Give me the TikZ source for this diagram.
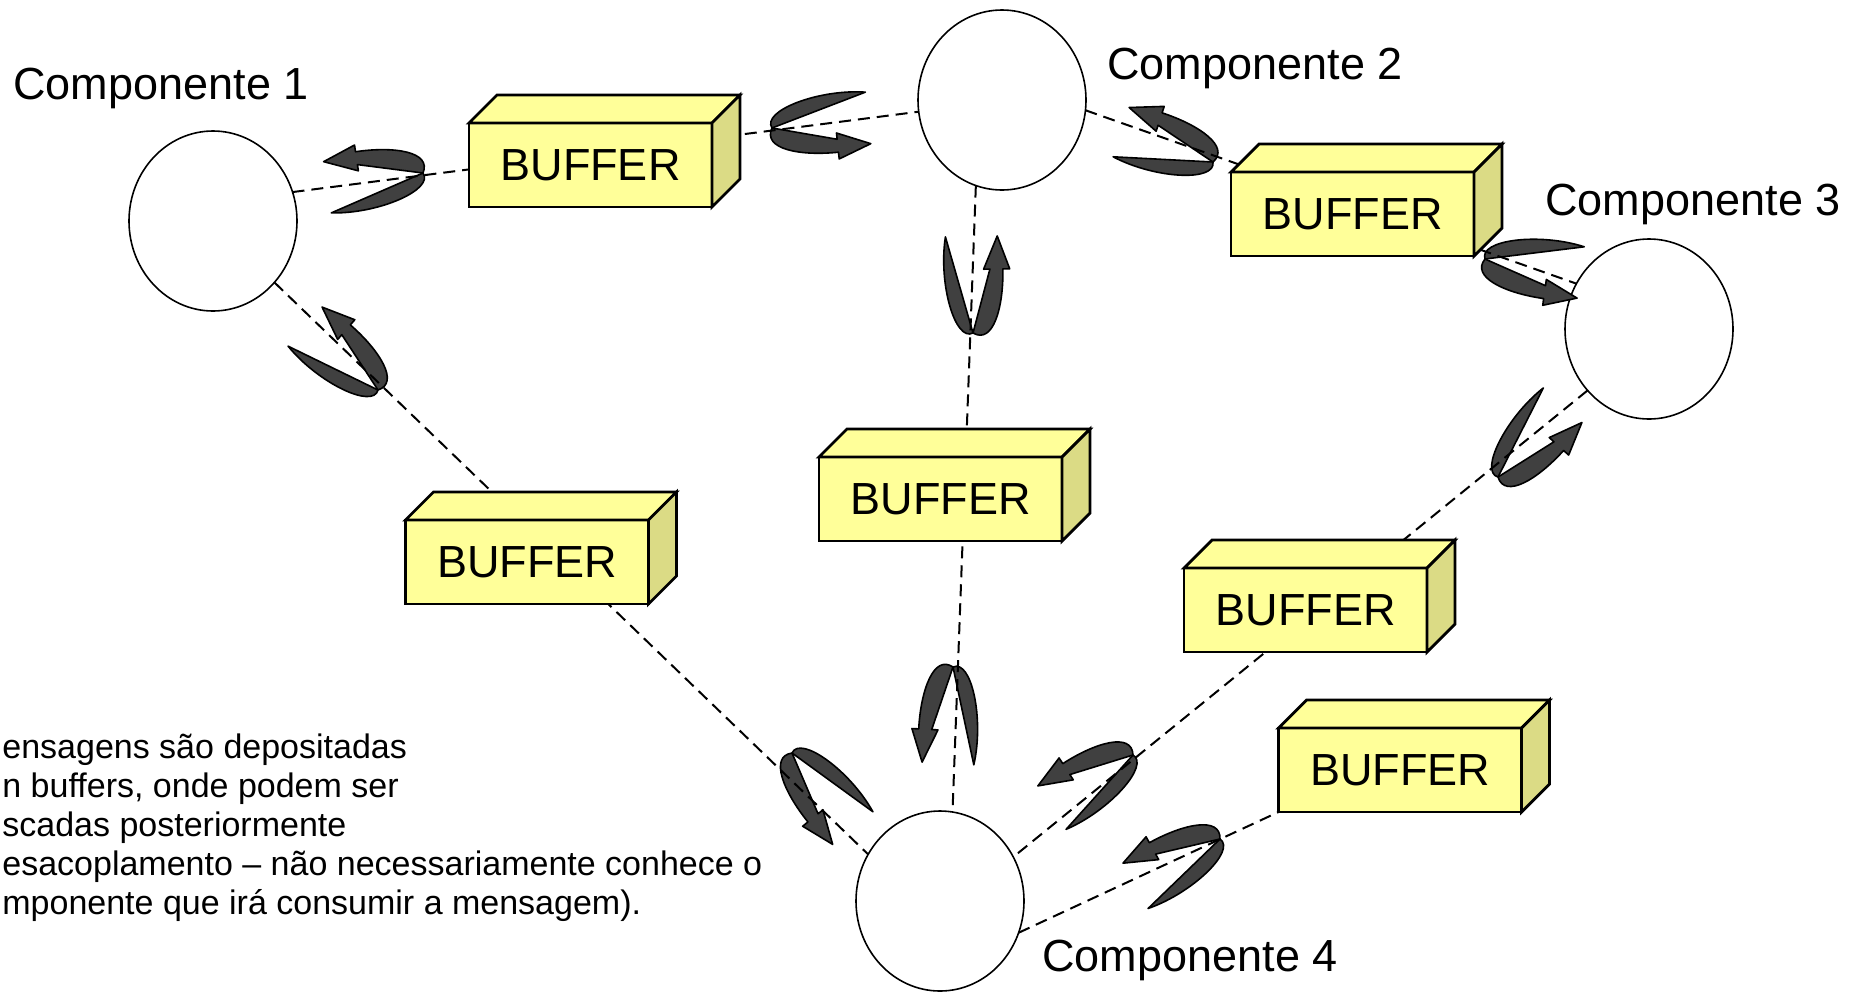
\documentclass[tikz,border=0pt]{standalone}
\usepackage{fontspec}
\setmainfont{Liberation Sans}
\usetikzlibrary{shapes.geometric}

\definecolor{bufyellow}{HTML}{FFFF99}
\definecolor{bufside}{HTML}{DBDB85}
\definecolor{flapgray}{HTML}{404040}

\tikzset{
  comp/.style={draw, ellipse, fill=white, line width=0.8pt, minimum width=84pt, minimum height=90pt, inner sep=0pt, outer sep=0pt},
  buffer/.style={draw, rectangle, fill=bufyellow, line width=1.4pt, minimum width=121.5pt, minimum height=42pt, inner sep=0pt, outer sep=0pt, font=\fontsize{22.5pt}{27pt}\selectfont},
  facet/.style={draw, line width=1.4pt},
  wire/.style={line width=1pt, dash pattern=on 6pt off 3.5pt},
  flap/.style={draw, fill=flapgray, line width=0.8pt, line join=round},
  compname/.style={anchor=base west, inner sep=0pt, font=\fontsize{22.5pt}{27pt}\selectfont},
  note/.style={anchor=base west, inner sep=0pt, font=\fontsize{17pt}{19.5pt}\selectfont}
}

% buffer drawn as a box: front face is the node
\newcommand\bufferbox[2]{%
  \node[buffer] (#1) at (#2) {BUFFER};
  \filldraw[facet, fill=bufyellow] (#1.north west) -- ++(28,-28) -- ++(243,0) -- (#1.north east) -- cycle;
  \filldraw[facet, fill=bufside] (#1.north east) -- ++(28,-28) -- ++(0,84) -- (#1.south east) -- cycle;
}

% pair of bent arrows meeting on a link
\newcommand\uturn[2]{%
  \begin{scope}[shift={(#1)}, rotate=#2, x=0.5pt, y=0.5pt]
    \filldraw[flap] (0,0) -- (96.6,25.9) .. controls (50,34) and (-9,18) .. cycle;
    \filldraw[flap] (0,0) -- (63.6,-18) -- (63.6,-11.7) -- (96.6,-25.9) -- (63.6,-37.8) -- (63.6,-31)
      .. controls (25,-31) and (-12,-20) .. cycle;
  \end{scope}}

\begin{document}
\begin{tikzpicture}[x=0.5pt, y=-0.5pt]
  \useasboundingbox (0,0) rectangle (1864,992);

  % components
  \node[comp] (c1) at (213,221) {};
  \node[comp] (c2) at (1002,100) {};
  \node[comp] (c3) at (1649,329) {};
  \node[comp] (c4) at (940,901) {};
  \node[compname] (n1) at (13,99) {Componente 1};
  \node[compname] (n2) at (1107,79) {Componente 2};
  \node[compname] (n3) at (1545,215) {Componente 3};
  \node[compname] (n4) at (1042,971) {Componente 4};

  % messages
  \foreach \vx/\vy/\a in {423/173/188.5, 772/128/6, 1213/162/162, 1485/259/-8,
      378/390/139, 973/333/91, 792/753/-51, 953/667/-93,
      1133/755/-147, 1220/839/-151, 1498/477/48}
    {\uturn{\vx,\vy}{\a}}

  % links
  \draw[wire] (c1.20) -- (c2.188);
  \draw[wire] (c2.-7) -- (c3.148);
  \draw[wire] (c1.-45) -- (c4.147);
  \draw[wire] (c2.-107) -- (c4.82);
  \draw[wire] (c3.-135) -- (c4.31);

  % buffers
  \bufferbox{b1}{590.5,165}
  \bufferbox{b2}{1352.5,214}
  \bufferbox{b3}{940.5,499}
  \bufferbox{b4}{527,562}
  \bufferbox{b5}{1305.5,610}
  \bufferbox{b6}{1400,770}
  \draw[wire] (c4.-22) -- (b6.south west);

  \foreach \txt [count=\i] in {ensagens são depositadas, {n buffers, onde podem ser},
      scadas posteriormente, esacoplamento – não necessariamente conhece o,
      mponente que irá consumir a mensagem).}
    {\node[note] (note\i) at (2,719+39*\i) {\txt};}
\end{tikzpicture}
\end{document}
